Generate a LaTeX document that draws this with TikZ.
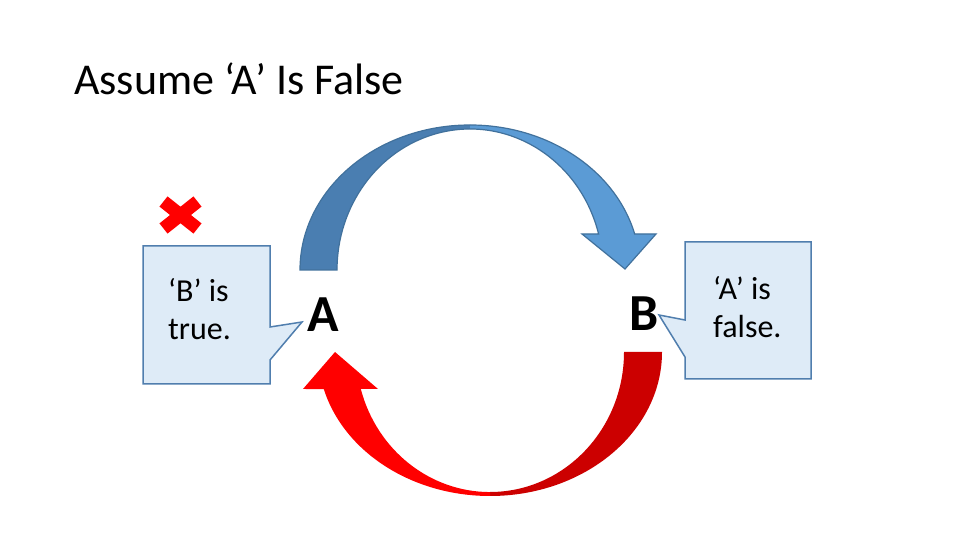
\documentclass[tikz,border=0pt]{standalone}
\usepackage{fontspec}
\setmainfont{Carlito}
\definecolor{arcdark}{RGB}{74,126,177}
\definecolor{arclight}{RGB}{91,155,213}
\definecolor{arcline}{RGB}{65,113,156}
\definecolor{reddark}{RGB}{204,0,0}
\definecolor{redlight}{RGB}{255,0,0}
\definecolor{notefill}{RGB}{222,235,247}
\definecolor{noteline}{RGB}{80,126,174}
\tikzset{
  note/.style={fill=notefill,draw=noteline,line width=1.5pt,line join=miter},
  notetext/.style={anchor=base west,align=left,inner sep=0pt,font=\fontsize{32}{38}\selectfont},
  letter/.style={inner sep=0pt,font=\fontsize{52}{60}\selectfont\bfseries}
}
\begin{document}
\begin{tikzpicture}[x=1pt,y=1pt]
\useasboundingbox (0,0) rectangle (960,540);
\fill[white] (0,0) rectangle (960,540);
%\draw[step=10pt,gray,very thin] (0,0) grid (960,540);
\node[anchor=base west,inner sep=0pt,font=\fontsize{44}{50}\selectfont] (title) at (74,445) {Assume ‘A’ Is False};
% upper arrow
\fill[arcdark] (300,270) arc[start angle=180,end angle=90,x radius=170,y radius=145]
  -- (470,411) arc[start angle=90,end angle=180,x radius=133,y radius=141] -- cycle;
\fill[arclight] (470,415) arc[start angle=90,end angle=14.4,x radius=170,y radius=145]
  -- (656,306) -- (625,271) -- (582,306) -- (598.6,306)
  arc[start angle=14.8,end angle=90,x radius=133,y radius=141] -- cycle;
\draw[arcline,line width=1.2pt] (300,270) arc[start angle=180,end angle=14.4,x radius=170,y radius=145]
  -- (656,306) -- (625,271) -- (582,306) -- (598.6,306)
  arc[start angle=14.8,end angle=180,x radius=133,y radius=141] -- cycle;
% lower arrow
\fill[reddark] (662,188) arc[start angle=0,end angle=-90,x radius=172,y radius=144]
  -- (490,48) arc[start angle=-90,end angle=0,x radius=134,y radius=140] -- cycle;
\fill[redlight] (490,44) arc[start angle=-90,end angle=-165.1,x radius=172,y radius=144]
  -- (303,151) -- (335,188) -- (378,151) -- (360.8,151)
  arc[start angle=-164.7,end angle=-90,x radius=134,y radius=140] -- cycle;
% cross
\draw[redlight,line width=13pt] (163.5,311.5) -- (197.5,338.5);
\draw[redlight,line width=13pt] (163.5,338.5) -- (197.5,311.5);
% callouts
\draw[note] (143,294) -- (270,294) -- (270,213) -- (302,218) -- (270,180) -- (270,156) -- (143,156) -- cycle;
\draw[note] (685,298) -- (811,298) -- (811,161) -- (685,161) -- (685,183) -- (659,225) -- (685,220) -- cycle;
\node[notetext] (btrue) at (168,200) {‘B’ is\\true.};
\node[notetext] (afalse) at (713,202) {‘A’ is\\false.};
\node[letter] (A) at (323.5,225) {A};
\node[letter] (B) at (644.5,226) {B};
\end{tikzpicture}
\end{document}
